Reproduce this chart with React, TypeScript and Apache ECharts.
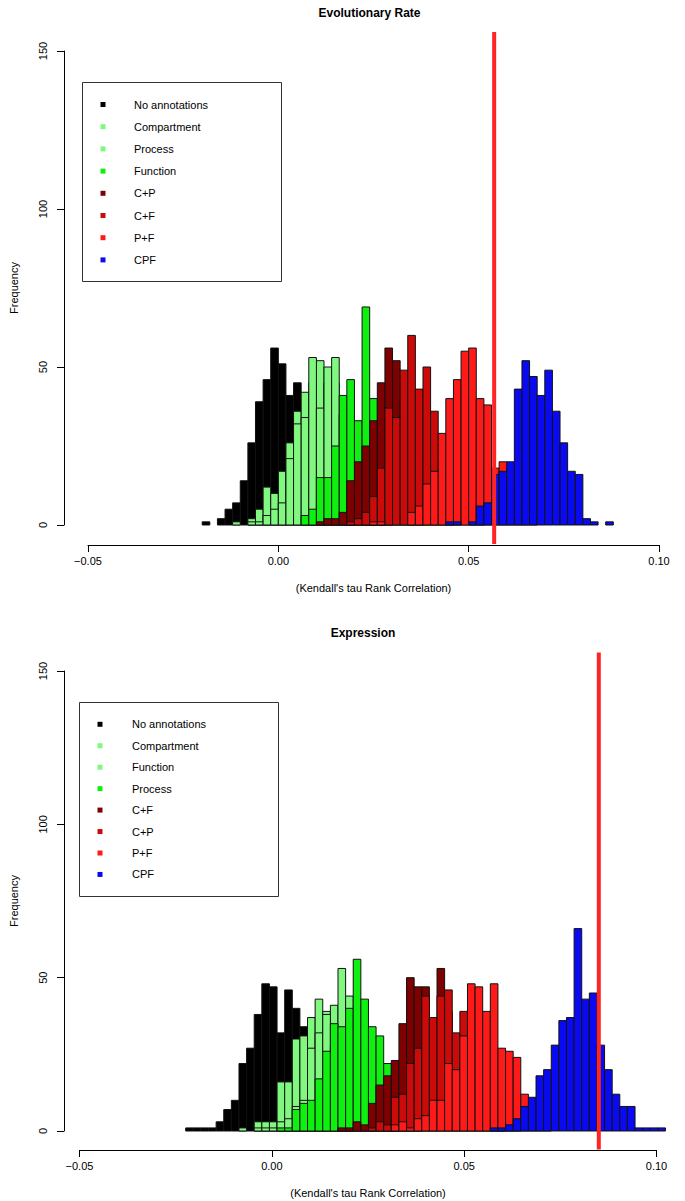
import React, { useEffect, useRef } from "react";
import * as echarts from "echarts";

const FONT = "'Liberation Sans', Arial, Helvetica, sans-serif";

// ---------- Panel 1: Evolutionary Rate ----------
const evoTitle = "Evolutionary Rate";
const evoNames = ["No annotations", "Compartment", "Process", "Function", "C+P", "C+F", "P+F", "CPF"];
const evoColors = ["#000000", "#80F880", "#80F880", "#10F010", "#7E0000", "#CC0A0A", "#FF1A1A", "#0A0AF0"];
const evoBinStart = -0.020;
const evoBinWidth = 0.002;
const evoOffsets = [0, 4, 6, 13, 15, 19, 22, 32]; // first bin of each series
const evoNoAnn = [1, 0, 2, 5, 7, 14, 26, 39, 46, 56, 51, 41, 45, 30, 20, 14, 8, 4, 2, 1];
const evoCompartment = [1, 0, 2, 5, 12, 10, 17, 26, 36, 42, 45, 52, 45, 45, 30, 20, 12, 8, 4, 2];
const evoProcess = [1, 1, 3, 5, 7, 21, 32, 34, 53, 37, 50, 53, 35, 25, 15, 10, 6, 3, 1];
const evoFunction = [3, 5, 15, 15, 25, 41, 46, 33, 69, 40, 25, 15, 8, 4, 2, 1];
const evoCP = [1, 2, 2, 4, 14, 20, 25, 33, 45, 56, 52, 40, 30, 22, 12, 6, 3, 1];
const evoCF = [1, 2, 4, 9, 18, 37, 34, 49, 60, 43, 50, 36, 20, 14, 8, 4, 2, 1];
const evoPF = [1, 1, 0, 0, 0, 4, 6, 13, 17, 29, 40, 46, 55, 56, 40, 38, 18, 20, 12, 6, 3, 1];
const evoCPF = [1, 1, 0, 1, 6, 7, 16, 17, 20, 43, 52, 47, 41, 49, 36, 26, 17, 16, 2, 1, 0, 1];
const evoObserved = 0.0567;

// ---------- Panel 2: Expression ----------
const exprTitle = "Expression";
const exprNames = ["No annotations", "Compartment", "Function", "Process", "C+F", "C+P", "P+F", "CPF"];
const exprColors = ["#000000", "#80F880", "#80F880", "#10F010", "#7E0000", "#CC0A0A", "#FF1A1A", "#0A0AF0"];
const exprBinStart = -0.0224;
const exprBinWidth = 0.00198;
const exprOffsets = [0, 7, 9, 12, 20, 24, 27, 40];
const exprNoAnn = [1, 1, 1, 1, 3, 7, 10, 22, 27, 38, 48, 47, 32, 46, 40, 34, 26, 16, 10, 5, 3, 1];
const exprCompartment = [1, 0, 3, 3, 3, 16, 16, 30, 31, 37, 43, 39, 41, 53, 44, 26, 19, 10, 5, 2, 1];
const exprFunction = [1, 1, 1, 3, 4, 8, 10, 27, 32, 38, 28, 30, 32, 28, 18, 12, 6, 3, 1];
const exprProcess = [1, 1, 7, 9, 10, 17, 26, 35, 34, 40, 56, 43, 34, 31, 22, 12, 6, 3, 1];
const exprCF = [1, 1, 3, 2, 9, 15, 18, 23, 35, 50, 47, 47, 34, 53, 39, 26, 20, 12, 8, 4, 2, 1];
const exprCP = [1, 3, 2, 11, 12, 22, 27, 44, 37, 44, 46, 32, 39, 30, 25, 18, 10, 6, 3, 1];
const exprPF = [2, 3, 1, 4, 5, 10, 10, 22, 20, 31, 48, 47, 39, 48, 27, 26, 24, 12, 5, 2, 1];
const exprCPF = [1, 1, 2, 4, 8, 11, 18, 20, 28, 36, 37, 66, 43, 45, 28, 20, 12, 8, 8, 1, 1, 1, 1];
const exprObserved = 0.085;

// Shared axes
const xMin = -0.05;
const xMax = 0.10;
const xInterval = 0.05;
const yMin = 0;
const yMax = 150;
const yInterval = 50;
const xAxisTitle = "(Kendall's tau Rank Correlation)";
const yAxisTitle = "Frequency";

const panels = [
  {
    title: evoTitle,
    names: evoNames,
    colors: evoColors,
    binStart: evoBinStart,
    binWidth: evoBinWidth,
    offsets: evoOffsets,
    counts: [evoNoAnn, evoCompartment, evoProcess, evoFunction, evoCP, evoCF, evoPF, evoCPF],
    observed: evoObserved,
    grid: { left: 82, top: 51, width: 577, height: 474 },
    xOffset: 20,
    yOffset: 24,
    titleY: 13,
    legend: { x: 82.5, y: 82.5, w: 199, h: 199, row0: 104.5, step: 22.2, sqX: 103, textX: 134 },
  },
  {
    title: exprTitle,
    names: exprNames,
    colors: exprColors,
    binStart: exprBinStart,
    binWidth: exprBinWidth,
    offsets: exprOffsets,
    counts: [exprNoAnn, exprCompartment, exprFunction, exprProcess, exprCF, exprCP, exprPF, exprCPF],
    observed: exprObserved,
    grid: { left: 71.5, top: 671, width: 585, height: 460 },
    xOffset: 19,
    yOffset: 15.5,
    titleY: 633,
    legend: { x: 79.5, y: 702.5, w: 199, h: 194, row0: 724.3, step: 21.45, sqX: 100, textX: 132 },
  },
];

function buildBins(start: number, width: number, offset: number, counts: number[]) {
  return counts.map((c, i) => [start + (offset + i) * width, start + (offset + i + 1) * width, c]);
}

export default function App() {
  const ref = useRef<HTMLDivElement>(null);

  useEffect(() => {
    document.body.style.margin = "0";
    if (!ref.current) return;
    const chart = echarts.init(ref.current, undefined, { renderer: "svg" });

    const grids: any[] = [];
    const xAxes: any[] = [];
    const yAxes: any[] = [];
    const series: any[] = [];
    const graphics: any[] = [];

    panels.forEach((p, pi) => {
      grids.push({ ...p.grid, containLabel: false });
      xAxes.push({
        type: "value",
        gridIndex: pi,
        min: xMin,
        max: xMax,
        interval: xInterval,
        position: "bottom",
        offset: p.xOffset,
        name: xAxisTitle,
        nameLocation: "middle",
        nameGap: 37,
        nameTextStyle: { color: "#000", fontFamily: FONT, fontSize: 11 },
        axisLine: { show: true, onZero: false, lineStyle: { color: "#000", width: 1 } },
        axisTick: { show: true, length: 7, lineStyle: { color: "#000" } },
        axisLabel: {
          color: "#000",
          fontFamily: FONT,
          fontSize: 11,
          margin: 10,
          formatter: (v: number) => (Math.abs(v) < 1e-9 ? "0.00" : v.toFixed(2).replace("-", "\u2212")),
        },
        splitLine: { show: false },
      });
      yAxes.push({
        type: "value",
        gridIndex: pi,
        min: yMin,
        max: yMax,
        interval: yInterval,
        position: "left",
        offset: p.yOffset,
        name: yAxisTitle,
        nameLocation: "middle",
        nameGap: 45,
        nameRotate: 90,
        nameTextStyle: { color: "#000", fontFamily: FONT, fontSize: 11 },
        axisLine: { show: true, onZero: false, lineStyle: { color: "#000", width: 1 } },
        axisTick: { show: true, length: 7, lineStyle: { color: "#000" } },
        axisLabel: { color: "#000", fontFamily: FONT, fontSize: 11, rotate: 90, margin: 16 },
        splitLine: { show: false },
      });

      p.counts.forEach((counts, si) => {
        const color = p.colors[si];
        series.push({
          type: "custom",
          name: p.names[si],
          xAxisIndex: pi,
          yAxisIndex: pi,
          clip: false,
          encode: { x: [0, 1], y: 2 },
          data: buildBins(p.binStart, p.binWidth, p.offsets[si], counts),
          renderItem: (params: any, api: any) => {
            const x0 = api.value(0);
            const x1 = api.value(1);
            const y = api.value(2);
            if (!y) return null;
            const a = api.coord([x0, y]);
            const b = api.coord([x1, 0]);
            return {
              type: "rect",
              shape: { x: a[0], y: a[1], width: b[0] - a[0], height: b[1] - a[1] },
              style: { fill: color, stroke: "#111", lineWidth: 1 },
            };
          },
        });
      });

      // observed value line across the plot region (ylim padded by 4%)
      const pad = (yMax - yMin) * 0.04;
      series.push({
        type: "custom",
        xAxisIndex: pi,
        yAxisIndex: pi,
        clip: false,
        encode: { x: 0, y: [1, 2] },
        data: [[p.observed, yMin - pad, yMax + pad]],
        renderItem: (params: any, api: any) => {
          const a = api.coord([api.value(0), api.value(1)]);
          const b = api.coord([api.value(0), api.value(2)]);
          return {
            type: "line",
            shape: { x1: a[0], y1: a[1], x2: b[0], y2: b[1] },
            style: { stroke: "#FF2424", lineWidth: 4 },
          };
        },
      });

      // title
      graphics.push({
        type: "text",
        x: p.grid.left + p.grid.width / 2 - 1,
        y: p.titleY,
        style: {
          text: p.title,
          fontFamily: FONT,
          fontSize: 12,
          fontWeight: "bold",
          fill: "#000",
          textAlign: "center",
          textVerticalAlign: "middle",
        },
      });

      // legend box
      const L = p.legend;
      const children: any[] = [
        {
          type: "rect",
          shape: { x: L.x, y: L.y, width: L.w, height: L.h },
          style: { fill: "#fff", stroke: "#333", lineWidth: 1 },
        },
      ];
      p.names.forEach((n, i) => {
        const cy = L.row0 + i * L.step;
        children.push({
          type: "rect",
          shape: { x: L.sqX - 2.5, y: cy - 2.5, width: 5, height: 5 },
          style: { fill: p.colors[i] },
        });
        children.push({
          type: "text",
          x: L.textX,
          y: cy,
          style: {
            text: n,
            fontFamily: FONT,
            fontSize: 11,
            fill: "#000",
            textAlign: "left",
            textVerticalAlign: "middle",
          },
        });
      });
      graphics.push({ type: "group", z: 100, children });
    });

    chart.setOption({
      animation: false,
      backgroundColor: "#fff",
      grid: grids,
      xAxis: xAxes,
      yAxis: yAxes,
      series,
      graphic: graphics,
    });

    return () => chart.dispose();
  }, []);

  return <div ref={ref} style={{ width: 685, height: 1201 }} />;
}
